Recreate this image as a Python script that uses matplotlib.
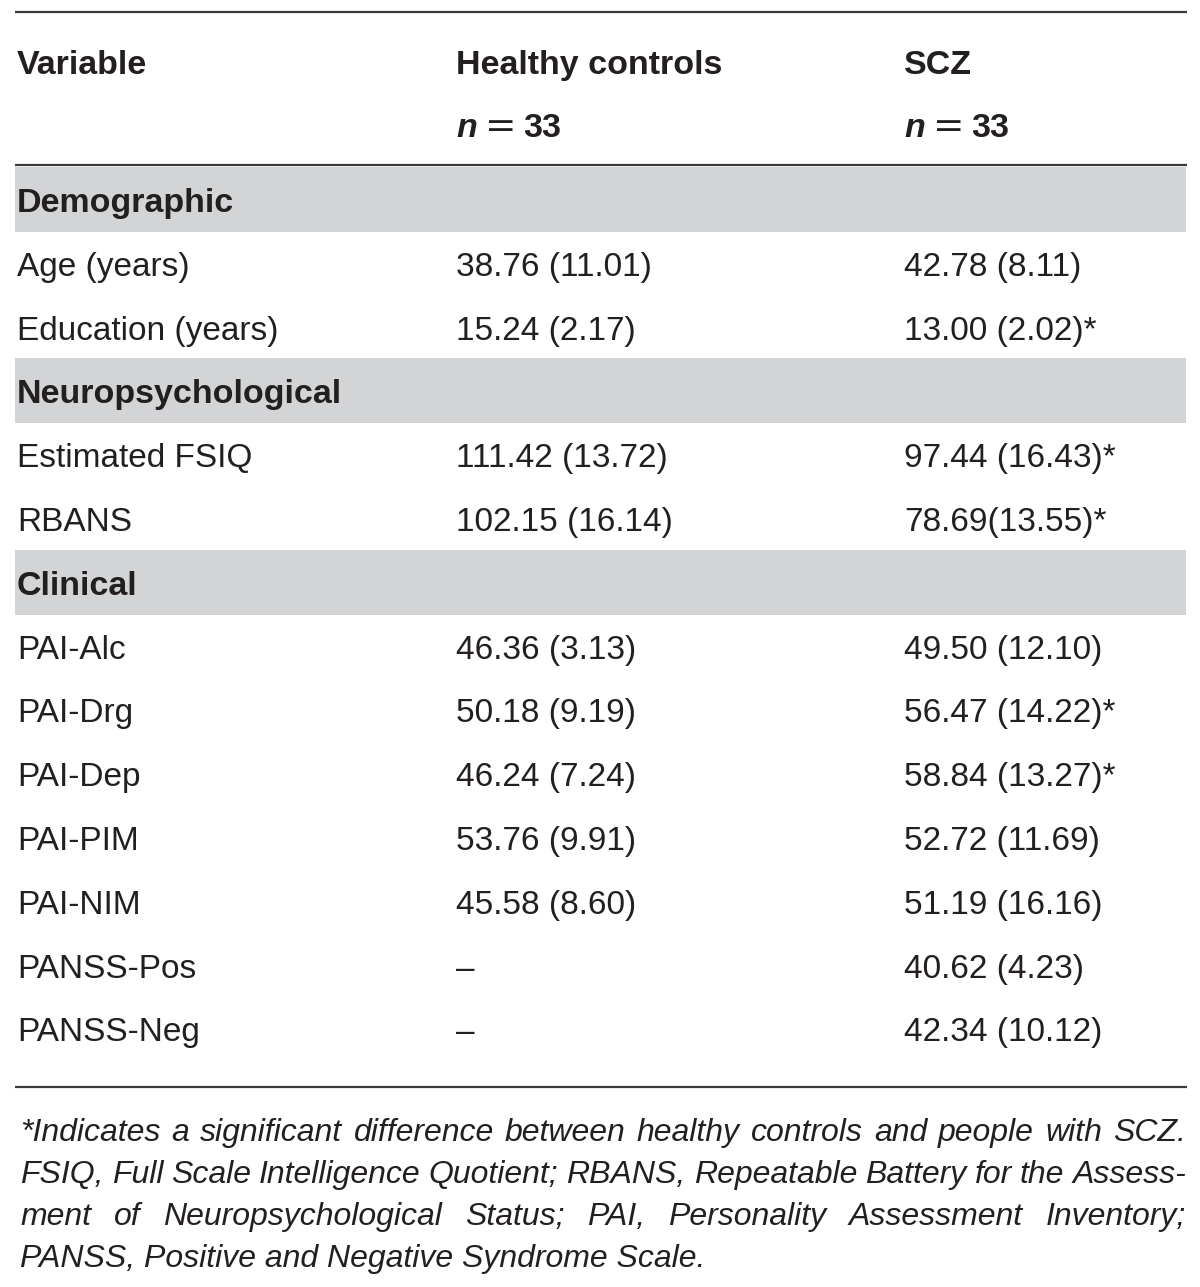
import matplotlib.pyplot as plt

# table content
sections = ["Demographic", "Neuropsychological", "Clinical"]
section_vars = [
    ["Age (years)", "Education (years)"],
    ["Estimated FSIQ", "RBANS"],
    ["PAI-Alc", "PAI-Drg", "PAI-Dep", "PAI-PIM", "PAI-NIM", "PANSS-Pos", "PANSS-Neg"],
]
healthy = [
    ["38.76 (11.01)", "15.24 (2.17)"],
    ["111.42 (13.72)", "102.15 (16.14)"],
    ["46.36 (3.13)", "50.18 (9.19)", "46.24 (7.24)", "53.76 (9.91)", "45.58 (8.60)", "–", "–"],
]
scz = [
    ["42.78 (8.11)", "13.00 (2.02)*"],
    ["97.44 (16.43)*", "78.69(13.55)*"],
    ["49.50 (12.10)", "56.47 (14.22)*", "58.84 (13.27)*", "52.72 (11.69)", "51.19 (16.16)",
     "40.62 (4.23)", "42.34 (10.12)"],
]
headers = ["Variable", "Healthy controls", "SCZ"]
n_values = ["33", "33"]
footnote = [
    "*Indicates a significant difference between healthy controls and people with SCZ.",
    "FSIQ, Full Scale Intelligence Quotient; RBANS, Repeatable Battery for the Assess-",
    "ment of Neuropsychological Status; PAI, Personality Assessment Inventory;",
    "PANSS, Positive and Negative Syndrome Scale.",
]

font = "Liberation Sans"
ink = "#231f20"
band = "#d3d4d6"
col_x = [17, 456, 904]
left, right = 15, 1187
fs = 24
fs_b = 24.5

fig = plt.figure(figsize=(12, 12.87), dpi=100)
ax = fig.add_axes([0, 0, 1, 1])
ax.set_xlim(0, 1200)
ax.set_ylim(1287, 0)
ax.axis("off")

# rules
for y in [12, 165, 1087]:
    ax.plot([left, right], [y, y], color="#3a3a3a", lw=1.6, solid_capstyle="butt")

# header
for x, h in zip(col_x, headers):
    ax.text(x, 74, h, fontsize=fs_b, fontweight="bold", family=font, color=ink, va="baseline")

fig.canvas.draw()
renderer = fig.canvas.get_renderer()
inv = ax.transData.inverted()


def right_edge(t):
    bb = t.get_window_extent(renderer)
    return inv.transform((bb.x1, bb.y0))[0]


for x, n in zip(col_x[1:], n_values):
    t = ax.text(x, 137, "n", fontsize=fs_b, fontweight="bold", style="italic", family=font,
                color=ink, va="baseline")
    t = ax.text(right_edge(t) + 8, 137, "=", fontsize=27, family="DejaVu Sans",
                color=ink, va="baseline")
    ax.text(right_edge(t) + 7, 137, n, fontsize=fs_b, fontweight="bold", family=font,
            color=ink, va="baseline")

# body rows
pitch = 63.8
y0 = 200
i = 0
for sec, vars_, hc, sz in zip(sections, section_vars, healthy, scz):
    yc = y0 + pitch * i
    ax.fill_between([left, right - 1], yc - 33, yc + 32, color=band, lw=0)
    ax.text(col_x[0], yc + 12, sec, fontsize=fs_b, fontweight="bold", family=font, color=ink,
            va="baseline")
    i += 1
    for v, a, b in zip(vars_, hc, sz):
        yc = y0 + pitch * i
        for x, s in zip(col_x, [v, a, b]):
            ax.text(x, yc + 12, s, fontsize=fs, family=font, color=ink, va="baseline")
        i += 1

# footnote, justified
note_left, note_right = 20, 1186


def word_widths(words, size):
    out = []
    for w in words:
        t = ax.text(0, 0, w, fontsize=size, style="italic", family=font)
        bb = t.get_window_extent(renderer)
        out.append(inv.transform((bb.x1, 0))[0] - inv.transform((bb.x0, 0))[0])
        t.remove()
    return out


for k, line in enumerate(footnote):
    yb = 1141 + 42 * k
    size = 23
    words = line.split(" ")
    widths = word_widths(words, size)
    gap = (note_right - note_left - sum(widths)) / (len(words) - 1)
    while gap < 5:
        size -= 0.25
        widths = word_widths(words, size)
        gap = (note_right - note_left - sum(widths)) / (len(words) - 1)
    if k == len(footnote) - 1:
        ax.text(note_left, yb, line, fontsize=size, style="italic", family=font, color=ink,
                va="baseline")
        continue
    x = note_left
    for w, wd in zip(words, widths):
        ax.text(x, yb, w, fontsize=size, style="italic", family=font, color=ink, va="baseline")
        x += wd + gap

fig.savefig("out.png", dpi=100, facecolor="white")
